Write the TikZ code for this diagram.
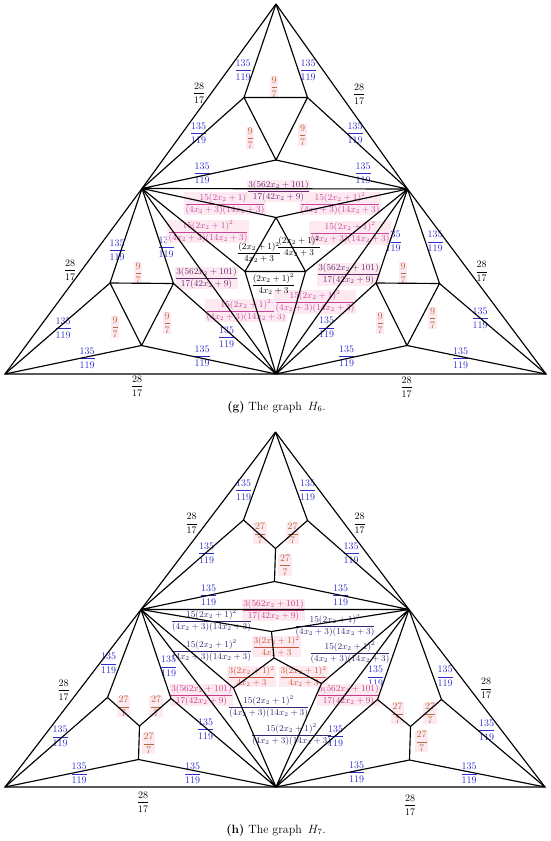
\documentclass[tikz,border=0pt]{standalone}
\usepackage{amsmath}
\usepackage{fontspec}
\definecolor{cblue}{RGB}{45,45,205}
\definecolor{cbrown}{RGB}{185,105,60}
\definecolor{cpurp}{RGB}{105,40,115}
\definecolor{cmag}{RGB}{200,70,160}
\definecolor{cmag7}{RGB}{205,60,135}
\definecolor{cnavy}{RGB}{55,35,115}
\definecolor{corng}{RGB}{205,85,50}
\definecolor{bgpink}{RGB}{253,233,240}
\newcommand{\FrA}{\dfrac{135}{119}}
\newcommand{\FrB}{\dfrac{28}{17}}
\newcommand{\FrC}{\dfrac{9}{7}}
\newcommand{\FrD}{\dfrac{27}{7}}
\newcommand{\FrE}{\dfrac{3(562x_2+101)}{17(42x_2+9)}}
\newcommand{\FrF}{\dfrac{15(2x_2+1)^2}{(4x_2+3)(14x_2+3)}}
\newcommand{\FrG}{\dfrac{(2x_2+1)^2}{4x_2+3}}
\newcommand{\FrH}{\dfrac{3(2x_2+1)^2}{4x_2+3}}
\begin{document}
\begin{tikzpicture}[x=1pt,y=-1pt,
  edge/.style={line width=1.15pt,black},
  sml/.style={inner sep=0.6pt,font=\fontsize{10}{12}\selectfont},
  lng/.style={inner sep=0.6pt,font=\fontsize{9}{11}\selectfont},
  blab/.style={sml,text=cblue},
  klab/.style={sml,text=black},
  olab/.style={sml,text=cbrown,fill=bgpink},
  plab/.style={lng,text=cpurp,fill=bgpink},
  mlab/.style={lng,text=cmag,fill=bgpink},
  glab/.style={lng,text=black},
  qlab/.style={lng,text=cmag7,fill=bgpink},
  nlab/.style={lng,text=cnavy},
  rlab/.style={lng,text=corng,fill=bgpink},
  captxt/.style={font=\fontsize{12}{14}\selectfont}]
\useasboundingbox (0,0) rectangle (550,841);
% ---------------- H6 vertices
\coordinate (T) at (276,4);
\coordinate (BL) at (5,374);
\coordinate (BM) at (276,374);
\coordinate (BR) at (546,374);
\coordinate (L) at (142,188.5);
\coordinate (R) at (407.5,189);
\coordinate (U1) at (244,97.5);
\coordinate (U2) at (307.5,97.5);
\coordinate (U3) at (276,160);
\coordinate (A1) at (110,283);
\coordinate (A2) at (173.5,283.5);
\coordinate (A3) at (141.5,345.5);
\coordinate (B1) at (376,283);
\coordinate (B2) at (439.5,283.5);
\coordinate (B3) at (407,345.5);
\coordinate (Ct) at (276,217.5);
\coordinate (Cbl) at (245,271.5);
\coordinate (Cbr) at (305.5,271.5);
% ---------------- H6 labels
\node[klab] (g1) at (199,93) {$\FrB$};
\node[klab] (g2) at (359,94) {$\FrB$};
\node[klab] (g3) at (70,270) {$\FrB$};
\node[klab] (g4) at (481.5,271.5) {$\FrB$};
\node[klab] (g5) at (137,386) {$\FrB$};
\node[klab] (g6) at (406.5,387) {$\FrB$};
\node[blab] (gb1) at (243,70) {$\FrA$};
\node[blab] (gb2) at (308,70) {$\FrA$};
\node[blab] (gb3) at (198.5,133) {$\FrA$};
\node[blab] (gb4) at (355,133) {$\FrA$};
\node[blab] (gb5) at (202,173) {$\FrA$};
\node[blab] (gb6) at (363,173) {$\FrA$};
\node[blab] (gb7) at (117,250) {$\FrA$};
\node[blab] (gb8) at (166,247) {$\FrA$};
\node[blab] (gb9) at (63,328) {$\FrA$};
\node[blab] (gb10) at (87,358) {$\FrA$};
\node[blab] (gb11) at (202,356) {$\FrA$};
\node[blab] (gb12) at (226.5,337) {$\FrA$};
\node[blab] (gb13) at (393,241.5) {$\FrA$};
\node[blab] (gb14) at (435,241.5) {$\FrA$};
\node[blab] (gb15) at (480,318) {$\FrA$};
\node[blab] (gb16) at (460.5,358) {$\FrA$};
\node[blab] (gb17) at (346.5,356) {$\FrA$};
\node[blab] (gb18) at (326.5,327.5) {$\FrA$};
\node[olab] (go1) at (274,87) {$\FrC$};
\node[olab] (go2) at (250,138) {$\FrC$};
\node[olab] (go3) at (302.5,135) {$\FrC$};
\node[olab] (go4) at (138,273) {$\FrC$};
\node[olab] (go5) at (115,327) {$\FrC$};
\node[olab] (go6) at (167,323) {$\FrC$};
\node[olab] (go7) at (403,273) {$\FrC$};
\node[olab] (go8) at (380,323) {$\FrC$};
\node[olab] (go9) at (432.5,318) {$\FrC$};
\node[mlab] (gm1) at (225,203.5) {$\FrF$};
\node[mlab] (gm2) at (340,203.5) {$\FrF$};
\node[mlab] (gm3) at (208,231.5) {$\FrF$};
\node[mlab] (gm4) at (350,233) {$\FrF$};
\node[mlab] (gm5) at (246,310.5) {$\FrF$};
\node[mlab] (gm6) at (315,302) {$\FrF$};
\node[plab] (gp1) at (278.5,191) {$\FrE$};
\node[plab] (gp2) at (206.5,278) {$\FrE$};
\node[plab] (gp3) at (348.5,274.5) {$\FrE$};
\node[glab] (gk1) at (259,252.5) {$\FrG$};
\node[glab] (gk2) at (299,246.5) {$\FrG$};
\node[glab] (gk3) at (273.5,284) {$\FrG$};
\node[captxt] (capg) at (276.5,407) {\textbf{(g)} The graph\enspace $H_6$.};
% ---------------- H6 edges
\draw[edge] (T) -- (L) -- (BL) -- (BM) -- (BR) -- (R) -- (T);
\draw[edge] (T) -- (U1) (T) -- (U2) (U1) -- (U2) (U1) -- (U3) (U2) -- (U3);
\draw[edge] (U1) -- (L) (U2) -- (R) (U3) -- (L) (U3) -- (R) (L) -- (R);
\draw[edge] (L) -- (A1) (L) -- (A2) (A1) -- (A2) (A1) -- (A3) (A2) -- (A3);
\draw[edge] (A1) -- (BL) (A3) -- (BL) (A3) -- (BM) (A2) -- (BM) (L) -- (BM);
\draw[edge] (L) -- (Ct) (L) -- (Cbl) (R) -- (Ct) (R) -- (Cbr);
\draw[edge] (Ct) -- (Cbl) (Ct) -- (Cbr) (Cbl) -- (Cbr) (Cbl) -- (BM) (Cbr) -- (BM) (R) -- (BM);
\draw[edge] (R) -- (B1) (R) -- (B2) (B1) -- (B2) (B1) -- (B3) (B2) -- (B3);
\draw[edge] (B2) -- (BR) (B3) -- (BR) (B3) -- (BM) (B1) -- (BM);
% ---------------- H7 vertices
\coordinate (T7) at (275.5,432);
\coordinate (L7) at (141,609.5);
\coordinate (R7) at (409,609.5);
\coordinate (BL7) at (5,787);
\coordinate (BM7) at (276,787);
\coordinate (BR7) at (545,787);
\coordinate (V1) at (243.5,520);
\coordinate (V2) at (307.5,520.5);
\coordinate (V3) at (275.5,548.5);
\coordinate (Q0) at (274.5,581.5);
\coordinate (P1) at (107.5,697.5);
\coordinate (P2) at (171,698.5);
\coordinate (P3) at (139.5,726);
\coordinate (P4) at (138.5,759.5);
\coordinate (S1) at (377.5,699.5);
\coordinate (S2) at (441.5,699.5);
\coordinate (S3) at (410.5,726.5);
\coordinate (S4) at (409.5,760);
\coordinate (Ct7) at (271.5,631.5);
\coordinate (Cc) at (274,658);
\coordinate (Cl) at (233.5,688);
\coordinate (Cr) at (321.5,683.5);
% ---------------- H7 labels
\node[klab] (h1) at (191.5,523.5) {$\FrB$};
\node[klab] (h2) at (359.5,523.5) {$\FrB$};
\node[klab] (h3) at (63.5,690) {$\FrB$};
\node[klab] (h4) at (486,688.5) {$\FrB$};
\node[klab] (h5) at (143,802) {$\FrB$};
\node[klab] (h6) at (410,805) {$\FrB$};
\node[blab] (hb1) at (243.5,490) {$\FrA$};
\node[blab] (hb2) at (307.5,490) {$\FrA$};
\node[blab] (hb3) at (206.5,553) {$\FrA$};
\node[blab] (hb4) at (351,553) {$\FrA$};
\node[blab] (hb5) at (208.5,595) {$\FrA$};
\node[blab] (hb6) at (340.5,595) {$\FrA$};
\node[blab] (hb7) at (108.5,663.5) {$\FrA$};
\node[blab] (hb8) at (168.5,666.5) {$\FrA$};
\node[blab] (hb9) at (60,736.5) {$\FrA$};
\node[blab] (hb10) at (79,773.5) {$\FrA$};
\node[blab] (hb11) at (192.5,773.5) {$\FrA$};
\node[blab] (hb12) at (205.5,729) {$\FrA$};
\node[blab] (hb13) at (375.5,676.5) {$\FrA$};
\node[blab] (hb14) at (445,676.5) {$\FrA$};
\node[blab] (hb15) at (486.5,730) {$\FrA$};
\node[blab] (hb16) at (469,773.5) {$\FrA$};
\node[blab] (hb17) at (356.5,772) {$\FrA$};
\node[blab] (hb18) at (335.5,736) {$\FrA$};
\node[olab] (ho1) at (260,533.5) {$\FrD$};
\node[olab] (ho2) at (292.5,533.5) {$\FrD$};
\node[olab] (ho3) at (285,565) {$\FrD$};
\node[olab] (ho4) at (123.5,706.5) {$\FrD$};
\node[olab] (ho5) at (156,706.5) {$\FrD$};
\node[olab] (ho6) at (148.5,743.5) {$\FrD$};
\node[olab] (ho7) at (397.5,713.5) {$\FrD$};
\node[olab] (ho8) at (430,713.5) {$\FrD$};
\node[olab] (ho9) at (421.5,741.5) {$\FrD$};
\node[qlab] (hp1) at (273.5,610) {$\FrE$};
\node[qlab] (hp2) at (201.5,695) {$\FrE$};
\node[qlab] (hp3) at (348.5,695) {$\FrE$};
\node[rlab] (hr1) at (276.5,646.5) {$\FrH$};
\node[rlab] (hr2) at (251.5,676.5) {$\FrH$};
\node[rlab] (hr3) at (303.5,676.5) {$\FrH$};
\node[nlab] (hn1) at (211.5,621) {$\FrF$};
\node[nlab] (hn2) at (335,625.5) {$\FrF$};
\node[nlab] (hn3) at (211.5,651) {$\FrF$};
\node[nlab] (hn4) at (350,653) {$\FrF$};
\node[nlab] (hn5) at (268.5,706.5) {$\FrF$};
\node[nlab] (hn6) at (291.5,735) {$\FrF$};
\node[captxt] (caph) at (276,830) {\textbf{(h)} The graph\enspace $H_7$.};
% ---------------- H7 edges
\draw[edge] (T7) -- (L7) -- (BL7) -- (BM7) -- (BR7) -- (R7) -- (T7);
\draw[edge] (T7) -- (V1) (T7) -- (V2) (V1) -- (V3) (V2) -- (V3) (V3) -- (Q0);
\draw[edge] (V1) -- (L7) (V2) -- (R7) (Q0) -- (L7) (Q0) -- (R7) (L7) -- (R7);
\draw[edge] (L7) -- (P1) (L7) -- (P2) (P1) -- (P3) (P2) -- (P3) (P3) -- (P4);
\draw[edge] (P1) -- (BL7) (P4) -- (BL7) (P4) -- (BM7) (P2) -- (BM7) (L7) -- (BM7);
\draw[edge] (L7) -- (Ct7) (R7) -- (Ct7) (Ct7) -- (Cc) (Cc) -- (Cl) (Cc) -- (Cr);
\draw[edge] (L7) -- (Cl) (R7) -- (Cr) (Cl) -- (BM7) (Cr) -- (BM7) (R7) -- (BM7);
\draw[edge] (R7) -- (S1) (R7) -- (S2) (S1) -- (S3) (S2) -- (S3) (S3) -- (S4);
\draw[edge] (S2) -- (BR7) (S4) -- (BR7) (S4) -- (BM7) (S1) -- (BM7);
\end{tikzpicture}
\end{document}
